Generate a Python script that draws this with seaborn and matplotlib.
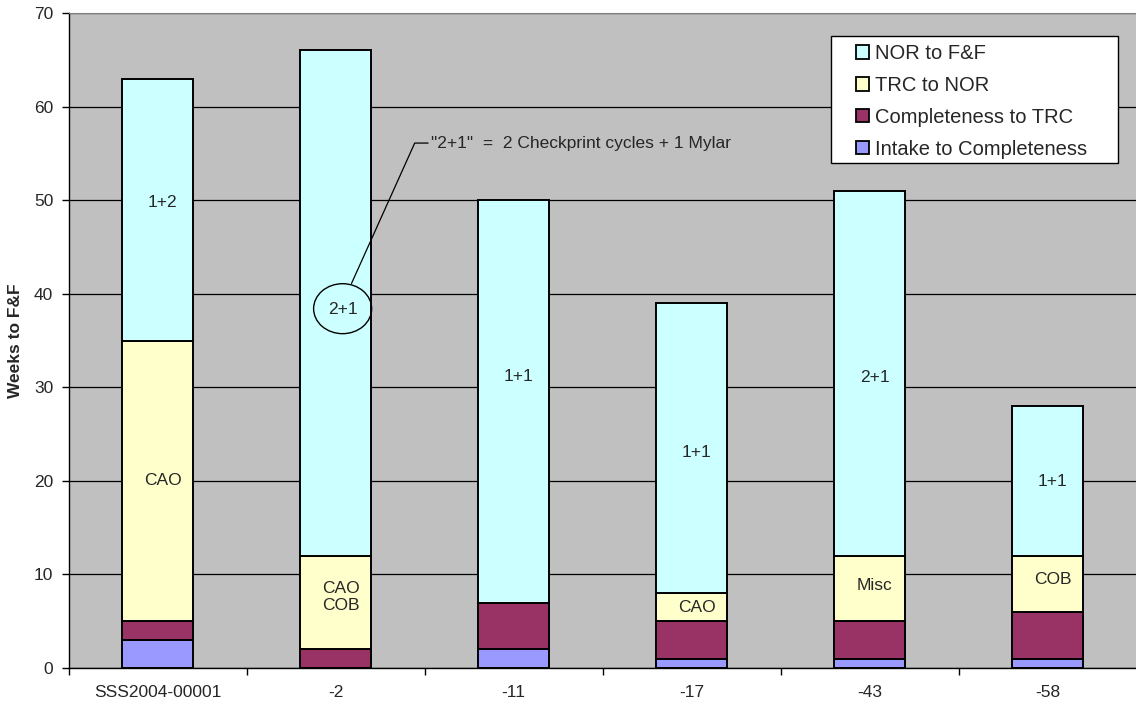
import matplotlib
matplotlib.use("Agg")
import matplotlib.pyplot as plt
from matplotlib.patches import Patch, Ellipse, Rectangle
import seaborn as sns
import pandas as pd

# Permit numbers and weeks spent in each phase
permits = ["SSS2004-00001", "-2", "-11", "-17", "-43", "-58"]
intake_to_completeness = [3, 0, 2, 1, 1, 1]
completeness_to_trc = [2, 2, 5, 4, 4, 5]
trc_to_nor = [30, 10, 0, 3, 7, 6]
nor_to_ff = [28, 54, 43, 31, 39, 16]

# Text notes inside the bars: (bar index, y value, text)
bar_notes = [
    (0, 49.8, "1+2"),
    (0, 20.0, "CAO"),
    (1, 7.6, "CAO\nCOB"),
    (2, 31.1, "1+1"),
    (3, 23.0, "1+1"),
    (3, 6.5, "CAO"),
    (4, 31.0, "2+1"),
    (4, 8.8, "Misc"),
    (5, 19.9, "1+1"),
    (5, 9.5, "COB"),
]
callout_text = '"2+1"  =  2 Checkprint cycles + 1 Mylar'

series = [
    ("Intake to Completeness", intake_to_completeness, "#9999FF"),
    ("Completeness to TRC", completeness_to_trc, "#993366"),
    ("TRC to NOR", trc_to_nor, "#FFFFCC"),
    ("NOR to F&F", nor_to_ff, "#CCFFFF"),
]

sns.set_style("white")
plt.rcParams["font.family"] = ["Liberation Sans", "DejaVu Sans"]

W, H = 1136, 706
fig = plt.figure(figsize=(W / 100, H / 100), dpi=100)
fig.patch.set_facecolor("white")
ax = fig.add_axes([68.5 / W, 1 - 668 / H, 1068 / W, 655 / H])
ax.set_facecolor("#C0C0C0")

# Horizontal grid lines behind the bars
ax.set_axisbelow(True)
ax.yaxis.grid(True, color="black", linewidth=0.9)
ax.xaxis.grid(False)

bottom = [0] * len(permits)
handles = {}
for name, vals, color in series:
    df = pd.DataFrame({"permit": permits, "weeks": vals})
    sns.barplot(data=df, x="permit", y="weeks", order=permits, bottom=bottom,
                color=color, saturation=1, width=0.4, edgecolor="black",
                linewidth=1.4, ax=ax, zorder=2)
    bottom = [b + v for b, v in zip(bottom, vals)]
    handles[name] = Patch(facecolor=color, edgecolor="black", linewidth=1.3)

ax.set_xlim(-0.5, len(permits) - 0.5)
ax.set_ylim(0, 70)
ax.set_yticks(range(0, 71, 10))

# Category labels at centres, tick marks at category boundaries
ax.set_xticks(range(len(permits)))
ax.set_xticklabels(permits, fontsize=12.5)
ax.tick_params(axis="x", which="major", length=0, pad=12)
ax.set_xticks([i - 0.5 for i in range(len(permits) + 1)], minor=True)
ax.tick_params(axis="x", which="minor", length=5, width=1, color="black",
               direction="out", bottom=True)
ax.tick_params(axis="y", length=5, width=1, color="black", direction="out",
               left=True, labelsize=12.5, pad=6)

ax.set_xlabel("")
ax.set_ylabel("Weeks to F&F", fontsize=12.5, fontweight="bold", labelpad=8)

for side in ("left", "bottom"):
    ax.spines[side].set_color("black")
    ax.spines[side].set_linewidth(1)
ax.spines["top"].set_color("#808080")
ax.spines["right"].set_visible(False)

for i, y, txt in bar_notes:
    ax.text(i + 0.03, y, txt, ha="center", va="center", fontsize=12.5,
            linespacing=1.2, zorder=4)

# Circled note with a callout line
ax.add_patch(Ellipse((1.04, 38.4), 0.326, 5.34, facecolor="none",
                     edgecolor="black", linewidth=1, zorder=4))
ax.text(1.04, 38.3, "2+1", ha="center", va="center", fontsize=12.5, zorder=4)
ax.plot([1.09, 1.445, 1.52], [41.1, 56.1, 56.1], color="black",
        linewidth=0.9, zorder=4)
ax.text(1.535, 56.1, callout_text, ha="left", va="center", fontsize=12.5,
        zorder=4)

# Legend box, then the entries placed inside it
def ax_x(px):
    return (px - 68.5) / 1068


def ax_y(py):
    return (668 - py) / 655


ax.add_patch(Rectangle((ax_x(831), ax_y(163)), ax_x(1118) - ax_x(831),
                       ax_y(36) - ax_y(163), transform=ax.transAxes,
                       facecolor="white", edgecolor="black", linewidth=1,
                       zorder=5))
order = ["NOR to F&F", "TRC to NOR", "Completeness to TRC",
         "Intake to Completeness"]
leg = ax.legend([handles[n] for n in order], order, loc="upper left",
                bbox_to_anchor=(ax_x(856), ax_y(44)), fontsize=14.5,
                frameon=False, handlelength=0.65, handleheight=0.65,
                handletextpad=0.3, labelspacing=0.64, borderpad=0,
                borderaxespad=0)
leg.set_zorder(6)

fig.savefig("out.png", dpi=100, facecolor="white")
